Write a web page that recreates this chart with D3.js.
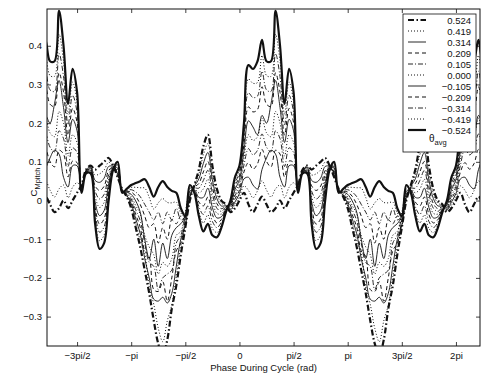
<!DOCTYPE html>
<html>
<head>
<meta charset="utf-8">
<script src="https://cdnjs.cloudflare.com/ajax/libs/d3/7.8.5/d3.min.js"></script>
<style>
body { margin: 0; background: #fff; }
svg text { font-family: "Liberation Sans", Arial, sans-serif; fill: #111; }
</style>
</head>
<body>
<div id="chart"></div>
<script>
// legend entries (theta_avg, rad)
var thetaLabels = ["0.524", "0.419", "0.314", "0.209", "0.105", "0.000",
                   "\u22120.105", "\u22120.209", "\u22120.314", "\u22120.419", "\u22120.524"]

// x ticks, in units of pi
var xTickValues = [-1.5, -1, -0.5, 0, 0.5, 1, 1.5, 2]
var xTickLabels = ["\u22123pi/2", "\u2212pi", "\u2212pi/2", "0", "pi/2", "pi", "3pi/2", "2pi"]
var yTickValues = [-0.3, -0.2, -0.1, 0, 0.1, 0.2, 0.3, 0.4]
var yTickLabels = ["\u22120.3", "\u22120.2", "\u22120.1", "0", "0.1", "0.2", "0.3", "0.4"]

// one cycle, phase -pi .. pi in steps of pi/24 (48 samples)
var cm_p524 = [-0.02,-0.07,-0.12,-0.18,-0.24,-0.31,-0.37,-0.40, -0.36,-0.28,-0.22,-0.14,-0.07,0.0,0.04,0.08,
               0.14,0.17,0.09,0.03,0.0,-0.01,-0.03,-0.02, 0.0,0.02,-0.01,-0.03,-0.01,0.01,-0.01,-0.03,
               -0.02,0.0,-0.02,0.0,0.02,0.04,0.08,0.09, 0.08,0.09,0.10,0.11,0.09,0.06,0.03,0.01]
var cm_p419 = [-0.014,-0.058,-0.103,-0.137,-0.223,-0.268,-0.33,-0.365, -0.311,-0.27,-0.196,-0.118,-0.067,0.004,0.038,0.068,
               0.118,0.147,0.072,0.018,-0.007,-0.012,-0.027,-0.012, 0.009,0.038,0.026,0.007,0.025,0.051,0.027,0.009,
               0.03,0.04,0.007,0.034,0.046,0.038,0.079,0.088, 0.066,0.069,0.079,0.099,0.089,0.064,0.029,0.012]
var cm_p314 = [-0.008,-0.047,-0.086,-0.15,-0.2,-0.255,-0.26,-0.25, -0.265,-0.24,-0.17,-0.1,-0.064,0.008,0.036,0.056,
               0.096,0.124,0.054,0.005,-0.014,-0.014,-0.024,-0.004, 0.018,0.056,0.06,0.04,0.03,0.08,0.11,0.13,
               0.12,0.06,0.035,0.09,0.09,0.036,0.078,0.086, 0.052,0.047,0.058,0.088,0.088,0.068,0.028,0.014]
var cm_p209 = [-0.002,-0.036,-0.069,-0.13,-0.145,-0.23,-0.235,-0.21, -0.26,-0.2,-0.13,-0.11,-0.05,0.012,0.034,0.044,
               0.074,0.101,0.036,-0.008,-0.021,-0.016,-0.021,0.004, 0.027,0.074,0.098,0.081,0.095,0.132,0.101,0.087,
               0.13,0.12,0.061,0.102,0.098,0.034,0.077,0.084, 0.038,0.026,0.037,0.077,0.087,0.072,0.027,0.016]
var cm_p105 = [0.004,-0.024,-0.052,-0.11,-0.16,-0.17,-0.23,-0.2, -0.19,-0.18,-0.11,-0.09,-0.04,0.016,0.032,0.032,
               0.052,0.078,0.018,-0.02,-0.028,-0.018,-0.018,0.012, 0.036,0.092,0.134,0.118,0.13,0.172,0.138,0.126,
               0.18,0.16,0.088,0.136,0.124,0.032,0.076,0.082, 0.024,0.004,0.016,0.066,0.086,0.076,0.026,0.018]
var cm_000 = [0.01,-0.013,-0.035,-0.09,-0.12,-0.14,-0.19,-0.16, -0.17,-0.15,-0.09,-0.08,-0.03,0.02,0.03,0.02,
              0.03,0.055,0.0,-0.033,-0.035,-0.02,-0.015,0.02, 0.045,0.11,0.17,0.155,0.165,0.213,0.175,0.165,
              0.23,0.2,0.115,0.17,0.15,0.03,0.075,0.08, 0.01,-0.018,-0.005,0.055,0.085,0.08,0.025,0.02]
var cm_m105 = [0.016,-0.001,-0.03,-0.1,-0.15,-0.1,-0.17,-0.11, -0.15,-0.09,-0.07,-0.06,-0.04,0.024,0.028,0.008,
               0.008,0.032,-0.018,-0.045,-0.042,-0.022,-0.012,0.028, 0.054,0.128,0.206,0.19,0.17,0.22,0.2,0.25,
               0.31,0.24,0.15,0.21,0.18,0.028,0.074,0.078, -0.004,-0.039,-0.026,0.044,0.084,0.084,0.024,0.022]
var cm_m209 = [0.022,0.011,-0.01,-0.04,-0.07,-0.06,-0.11,-0.07, -0.1,-0.05,-0.06,-0.04,-0.05,0.028,0.026,-0.004,
               -0.014,0.009,-0.036,-0.058,-0.049,-0.024,-0.009,0.036, 0.063,0.146,0.242,0.229,0.235,0.294,0.249,0.243,
               0.33,0.28,0.169,0.238,0.202,0.026,0.073,0.076, -0.018,-0.061,-0.047,0.033,0.083,0.088,0.023,0.024]
var cm_m314 = [0.028,0.022,0.01,-0.01,-0.03,-0.05,-0.03,-0.06, -0.03,-0.05,-0.02,-0.05,-0.04,0.032,0.024,-0.016,
               -0.036,-0.014,-0.054,-0.07,-0.056,-0.026,-0.006,0.044, 0.072,0.164,0.278,0.266,0.27,0.334,0.286,0.282,
               0.38,0.32,0.196,0.272,0.228,0.024,0.072,0.074, -0.032,-0.082,-0.068,0.022,0.082,0.092,0.022,0.026]
var cm_m419 = [0.034,0.034,0.033,0.032,0.008,-0.022,-0.006,0.005, -0.005,-0.006,-0.004,-0.032,-0.043,0.036,0.022,-0.028,
               -0.058,-0.037,-0.072,-0.083,-0.063,-0.028,-0.003,0.052, 0.081,0.182,0.314,0.303,0.305,0.375,0.323,0.321,
               0.43,0.36,0.223,0.306,0.254,0.022,0.071,0.072, -0.046,-0.104,-0.089,0.011,0.081,0.096,0.021,0.028]
var cm_m524 = [0.04,0.045,0.05,0.055,0.035,0.01,0.035,0.05, 0.035,0.025,0.02,-0.02,-0.04,0.04,0.02,-0.04,
               -0.08,-0.06,-0.09,-0.095,-0.07,-0.03,0.0,0.06, 0.09,0.2,0.35,0.34,0.36,0.415,0.36,0.36,
               0.49,0.40,0.25,0.34,0.28,0.02,0.07,0.07, -0.06,-0.125,-0.11,0.0,0.08,0.10,0.02,0.03]

var series = [cm_p524, cm_p419, cm_p314, cm_p209, cm_p105, cm_000,
              cm_m105, cm_m209, cm_m314, cm_m419, cm_m524]

var phaseStep = Math.PI / 24
var phases = d3.range(48).map(i => -Math.PI + i * phaseStep)

var lineStyles = [
    { dash: "6,2.5,1.5,2.5", width: 2.2 },
    { dash: "1,2", width: 1 },
    { dash: null, width: 0.9 },
    { dash: "4,3", width: 1 },
    { dash: "5,2,1,2", width: 0.9 },
    { dash: "1,2", width: 1 },
    { dash: null, width: 0.9 },
    { dash: "4,3", width: 1 },
    { dash: "5,2,1,2", width: 0.9 },
    { dash: "1,2", width: 1 },
    { dash: null, width: 2.2 }
]

var svgSize = { width: 488, height: 375 }
var box = { left: 47, right: 480, top: 9, bottom: 346 }

var svg = d3.select("#chart")
    .append("svg")
    .attr("width", svgSize.width)
    .attr("height", svgSize.height)

var xScale = d3.scaleLinear()
    .domain([-16 * Math.PI / 9, 20 * Math.PI / 9])
    .range([box.left, box.right])

var yScale = d3.scaleLinear()
    .domain([-0.376, 0.495])
    .range([box.bottom, box.top])

svg.append("clipPath").attr("id", "plotClip")
    .append("rect")
    .attr("x", box.left).attr("y", box.top)
    .attr("width", box.right - box.left).attr("height", box.bottom - box.top)

var line = d3.line()
    .x(d => xScale(d.phase))
    .y(d => yScale(d.cm))
    .curve(d3.curveCatmullRom.alpha(0.5))

// the cycle repeats every 2pi across the window
var cycles = [-1, 0, 1]
var lines = svg.append("g").attr("clip-path", "url(#plotClip)")

series.forEach((vals, s) => {
    var pts = []
    cycles.forEach(k => {
        vals.forEach((v, i) => pts.push({ phase: phases[i] + 2 * Math.PI * k, cm: v }))
    })
    lines.append("path")
        .datum(pts)
        .attr("d", line)
        .attr("fill", "none")
        .attr("stroke", "#111")
        .attr("stroke-width", lineStyles[s].width)
        .attr("stroke-dasharray", lineStyles[s].dash)
})

// axes, ticks pointing inwards
var xTicks = xTickValues.map(v => v * Math.PI)

var bottomAxis = d3.axisBottom(xScale)
    .tickValues(xTicks)
    .tickFormat((d, i) => xTickLabels[i])
    .tickSizeInner(-4).tickSizeOuter(0).tickPadding(6)
var topAxis = d3.axisTop(xScale)
    .tickValues(xTicks).tickFormat("")
    .tickSizeInner(-4).tickSizeOuter(0)
var leftAxis = d3.axisLeft(yScale)
    .tickValues(yTickValues)
    .tickFormat((d, i) => yTickLabels[i])
    .tickSizeInner(-4).tickSizeOuter(0).tickPadding(5)
var rightAxis = d3.axisRight(yScale)
    .tickValues(yTickValues).tickFormat("")
    .tickSizeInner(-4).tickSizeOuter(0)

svg.append("g").attr("transform", `translate(0, ${box.bottom})`).call(bottomAxis)
svg.append("g").attr("transform", `translate(0, ${box.top})`).call(topAxis)
svg.append("g").attr("transform", `translate(${box.left}, 0)`).call(leftAxis)
svg.append("g").attr("transform", `translate(${box.right}, 0)`).call(rightAxis)

svg.selectAll(".domain").remove()
svg.selectAll(".tick line").attr("stroke", "#111").attr("stroke-width", 0.8)
svg.selectAll(".tick text")
    .attr("font-size", 9.5)
    .attr("font-family", "Liberation Sans, Arial, sans-serif")
    .attr("fill", "#111")

svg.append("rect")
    .attr("x", box.left).attr("y", box.top)
    .attr("width", box.right - box.left).attr("height", box.bottom - box.top)
    .attr("fill", "none").attr("stroke", "#111").attr("stroke-width", 1)

// axis titles
svg.append("text")
    .attr("x", (box.left + box.right) / 2)
    .attr("y", 371)
    .attr("text-anchor", "middle")
    .attr("font-size", 9.5)
    .text("Phase During Cycle (rad)")

var yTitle = svg.append("text")
    .attr("transform", "translate(37, 182) rotate(-90)")
    .attr("text-anchor", "middle")
    .attr("font-size", 9.5)
yTitle.append("tspan").text("C")
yTitle.append("tspan").attr("dy", 3).attr("font-size", 7.5).text("Mpitch")

// legend
var legend = svg.append("g")
legend.append("rect")
    .attr("x", 403).attr("y", 14).attr("width", 73).attr("height", 138)
    .attr("fill", "#fff").attr("stroke", "#111").attr("stroke-width", 0.8)

thetaLabels.forEach((lab, s) => {
    var y = 20 + s * 11
    legend.append("line")
        .attr("x1", 408).attr("x2", 426).attr("y1", y).attr("y2", y)
        .attr("stroke", "#111")
        .attr("stroke-width", lineStyles[s].width)
        .attr("stroke-dasharray", lineStyles[s].dash)
    legend.append("text")
        .attr("x", 471).attr("y", y + 3.5)
        .attr("text-anchor", "end")
        .attr("font-size", 9.5)
        .text(lab)
})

var thetaTitle = legend.append("text")
    .attr("x", 429).attr("y", 142)
    .attr("font-size", 10)
thetaTitle.append("tspan").text("\u03b8")
thetaTitle.append("tspan").attr("dy", 3).attr("font-size", 7.5).text("avg")
</script>
</body>
</html>
